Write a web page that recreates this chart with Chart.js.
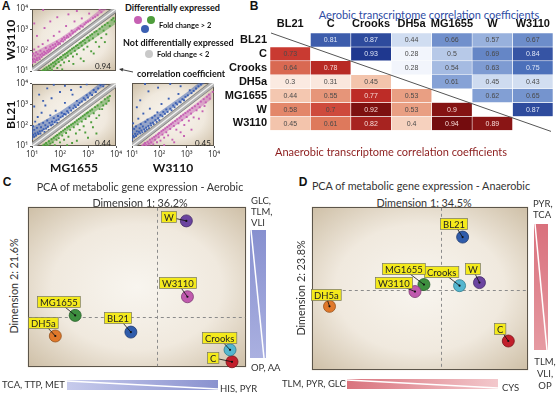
<!DOCTYPE html>
<html lang="en">
<head>
<meta charset="UTF-8">
<title>E. coli strain transcriptomes</title>
<style>
  body { margin: 0; background: #fff; font-family: Lato, "Open Sans", sans-serif; color: #333; }
  #fig { position: relative; width: 556px; height: 393px; overflow: hidden; background: #fff; }
  #fig canvas, #fig .t, #fig svg, #fig .dot { position: absolute; }
  .t { white-space: nowrap; line-height: 1; }
  .c { transform: translate(-50%, -50%); }
  .l { transform: translateY(-50%); }
  .rot { transform: translate(-50%, -50%) rotate(-90deg); }
  .pl { font: bold 12px "Liberation Sans", Arial, sans-serif; color: #111; }
  .lg { font: bold 9px Lato, sans-serif; color: #111; }
  .lg2 { font: bold 7.5px Lato, sans-serif; color: #111; }
  .cc { font: 8px Lato, sans-serif; color: #222; }
  .ti { font: 10.8px Lato, sans-serif; color: #333; }
  .side { font: 9.5px Lato, sans-serif; color: #333; }
  .dot { border-radius: 50%; }
</style>
</head>
<body>
<div id="fig">
  <!-- panel letters -->
  <div class="t c pl" style="left:6px;top:6px">A</div>
  <div class="t c pl" style="left:254px;top:6px">B</div>
  <div class="t c pl" style="left:7px;top:182px">C</div>
  <div class="t c pl" style="left:303px;top:182px">D</div>

  <!-- A: scatter plots -->
  <canvas id="aTop" width="124" height="80" style="left:0;top:0"></canvas>
  <canvas id="aBL" width="124" height="100" style="left:0;top:77px"></canvas>
  <canvas id="aBR" width="98" height="100" style="left:124px;top:77px"></canvas>
  <div class="t c cc" style="left:103px;top:66px">0.94</div>
  <div class="t c cc" style="left:103px;top:143px">0.44</div>
  <div class="t c cc" style="left:203px;top:143px">0.45</div>

  <!-- A: legend -->
  <div class="t l lg" style="left:125px;top:7px">Differentially expressed</div>
  <div class="dot" style="left:134px;top:16px;width:8px;height:8px;background:#c660b3"></div>
  <div class="dot" style="left:147px;top:16px;width:8px;height:8px;background:#4e9d3c"></div>
  <div class="dot" style="left:141px;top:25px;width:8px;height:8px;background:#3b5fb2"></div>
  <div class="t l lg2" style="left:159px;top:25px">Fold change &gt; 2</div>
  <div class="t l lg" style="left:123px;top:42px">Not differentially expressed</div>
  <div class="dot" style="left:145px;top:50px;width:8px;height:8px;background:#c9c9c9"></div>
  <div class="t l lg2" style="left:157px;top:54px">Fold change &lt; 2</div>
  <div class="t l lg" style="left:137px;top:73px">correlation coefficient</div>
  <svg style="left:117px;top:65px" width="18" height="10">
    <line x1="16" y1="7" x2="4" y2="4.4" stroke="#333" stroke-width="0.9"/>
    <path d="M2,4 L6.3,3.1 L5.5,6.6 Z" fill="#333"/>
  </svg>

  <!-- B: heatmap -->
  <div class="t c ti" style="left:429px;top:14px;color:#2f4da5;font-size:11px">Aerobic transcriptome correlation coefficients</div>
  <canvas id="hm" width="351" height="123" style="left:205px;top:17px"></canvas>
  <div class="t c ti" style="left:391px;top:151px;color:#8c1c1c;font-size:11px">Anaerobic transcriptome correlation coefficients</div>

  <!-- C: aerobic PCA -->
  <div class="t c ti" style="left:140px;top:186px">PCA of metabolic gene expression - Aerobic</div>
  <div class="t c ti" style="left:140px;top:202px">Dimension 1: 36.2%</div>
  <div class="t rot ti" style="left:13px;top:286px">Dimension 2: 21.6%</div>
  <canvas id="pcaC" width="232" height="174" style="left:21px;top:200px"></canvas>
  <div class="t l side" style="left:251px;top:200px">GLC,</div>
  <div class="t l side" style="left:251px;top:211px">TLM,</div>
  <div class="t l side" style="left:251px;top:222px">VLI</div>
  <div class="t l side" style="left:251px;top:367px">OP, AA</div>
  <div class="t l side" style="left:2px;top:384px">TCA, TTP, MET</div>
  <div class="t l side" style="left:220px;top:388px">HIS, PYR</div>
  <svg style="left:250px;top:230px" width="16" height="128">
    <defs><linearGradient id="gCv" x1="0" y1="0" x2="0" y2="1">
      <stop offset="0" stop-color="#8790cf"/><stop offset="1" stop-color="#aab0e0"/></linearGradient></defs>
    <rect width="16" height="128" fill="url(#gCv)"/>
    <line x1="1" y1="0" x2="14" y2="128" stroke="#fff" stroke-width="1.5"/>
  </svg>
  <svg style="left:67px;top:380px" width="151" height="10">
    <defs><linearGradient id="gCh" x1="0" y1="0" x2="1" y2="0">
      <stop offset="0" stop-color="#c7cbec"/><stop offset="1" stop-color="#8a92cf"/></linearGradient></defs>
    <rect width="151" height="10" fill="url(#gCh)"/>
    <line x1="0" y1="1" x2="151" y2="9" stroke="#fff" stroke-width="1.3"/>
  </svg>

  <!-- D: anaerobic PCA -->
  <div class="t c ti" style="left:421px;top:185px">PCA of metabolic gene expression - Anaerobic</div>
  <div class="t c ti" style="left:424px;top:202px">Dimension 1: 34.5%</div>
  <div class="t rot ti" style="left:300px;top:288px">Dimension 2: 23.8%</div>
  <canvas id="pcaD" width="230" height="177" style="left:305px;top:200px"></canvas>
  <div class="t l side" style="left:533px;top:203px">PYR,</div>
  <div class="t l side" style="left:533px;top:214px">TCA</div>
  <div class="t c side" style="left:545px;top:361px">TLM,</div>
  <div class="t c side" style="left:545px;top:373px">VLI,</div>
  <div class="t c side" style="left:545px;top:385px">OP</div>
  <div class="t l side" style="left:282px;top:383px">TLM, PYR, GLC</div>
  <div class="t l side" style="left:502px;top:387px">CYS</div>
  <svg style="left:534px;top:224px" width="14" height="126">
    <defs><linearGradient id="gDv" x1="0" y1="0" x2="0" y2="1">
      <stop offset="0" stop-color="#d9707c"/><stop offset="1" stop-color="#e69aa2"/></linearGradient></defs>
    <rect width="14" height="126" fill="url(#gDv)"/>
    <line x1="1" y1="0" x2="13" y2="126" stroke="#fff" stroke-width="1.5"/>
  </svg>
  <svg style="left:347px;top:379px" width="151" height="10">
    <defs><linearGradient id="gDh" x1="0" y1="0" x2="1" y2="0">
      <stop offset="0" stop-color="#d9737d"/><stop offset="1" stop-color="#f3c8cc"/></linearGradient></defs>
    <rect width="151" height="10" fill="url(#gDh)"/>
    <line x1="0" y1="1" x2="151" y2="9" stroke="#fff" stroke-width="1.3"/>
  </svg>
</div>

<script src="https://cdn.jsdelivr.net/npm/chart.js"></script>
<script>
// ---------- data ----------
const strains = ['BL21', 'C', 'Crooks', 'DH5a', 'MG1655', 'W', 'W3110'];

// B: aerobic (upper triangle, row r vs columns r+1..) and anaerobic (lower triangle, columns 0..r-1)
const aerobicCorr = [
  [0.81, 0.87, 0.44, 0.66, 0.57, 0.67],
  [0.93, 0.28, 0.5, 0.69, 0.84],
  [0.28, 0.54, 0.63, 0.75],
  [0.61, 0.45, 0.43],
  [0.62, 0.65],
  [0.87],
  []
];
const anaerobicCorr = [
  [],
  [0.73],
  [0.64, 0.78],
  [0.3, 0.31, 0.45],
  [0.44, 0.55, 0.77, 0.53],
  [0.58, 0.7, 0.92, 0.53, 0.9],
  [0.45, 0.61, 0.82, 0.4, 0.94, 0.89]
];

// C / D: PCA scores, same order as strains
const aerobicPC1 = [-1.18, 3.45, 3.36, -4.64, -3.73, 1.36, 1.41];
const aerobicPC2 = [-0.68, -2.05, -1.5, -0.86, 0.09, 4.45, 0.95];
const anaerobicPC1 = [1.0, 3.09, 0.86, -5.09, -0.77, 1.77, -1.18];
const anaerobicPC2 = [2.41, -2.36, 0.18, -0.77, 0.23, 0.32, -0.09];

// A: log-log expression scatter, [x, y]
const decadeValues = [10, 100, 1000, 10000];
const decadeLabels = ['10\u00b9', '10\u00b2', '10\u00b3', '10\u2074'];
const identity = [{x: 10, y: 10}, {x: 10000, y: 10000}];

// W3110 vs MG1655
const topUp = [[10,24],[10,45],[11,70],[11,30],[12,38],[12,110],[13,27],[13,55],[14,34],[14,80],[15,42],[16,33],[16,65],[17,150],[18,45],[19,38],[20,60],[20,95],[22,48],[23,70],[24,200],[25,58],[27,85],[28,62],[30,75],[31,130],[33,70],[35,95],[37,300],[38,80],[40,110],[43,90],[45,150],[48,105],[50,120],[55,180],[58,125],[60,500],[63,140],[68,200],[72,160],[78,260],[85,190],[90,230],[95,800],[100,210],[110,280],[120,350],[130,270],[140,420],[150,330],[165,1500],[170,400],[180,500],[200,430],[220,600],[240,520],[260,900],[280,650],[300,750],[330,2500],[350,820],[400,1000],[450,1200],[500,1100],[550,1500],[600,3500],[650,1400],[750,1800],[850,2200],[1000,2500],[1100,6000],[1200,2800],[1500,3600],[1800,4200],[2200,5000],[2600,9000],[3000,7000],[28,1200],[45,2500],[15,500],[200,5500],[400,8000],[80,4000],[25,9000],[12,2000]];
const topLow = [[22,10],[25,11],[28,13],[30,10.5],[33,15],[36,12],[40,18],[44,14],[48,21],[52,11],[56,25],[60,17],[65,28],[70,22],[75,33],[80,14],[85,38],[90,27],[100,44],[105,19],[110,48],[120,35],[130,58],[140,26],[150,65],[160,45],[175,75],[190,55],[200,88],[210,30],[230,100],[250,70],[270,120],[290,50],[310,135],[340,95],[370,160],[400,65],[420,180],[460,130],[500,220],[550,40],[560,240],[600,170],[650,280],[700,110],[750,320],[800,230],[900,400],[950,150],[1000,430],[1100,300],[1200,520],[1300,90],[1400,600],[1500,380],[1700,750],[1900,250],[2000,850],[2300,600],[2600,1100],[3000,400],[3200,1400],[3600,900],[4000,1700],[4500,600],[5000,2100],[6000,1500],[7000,3000],[8000,3600],[120,12],[300,22],[700,30],[1600,70],[2500,150],[4000,250],[9000,2500]];
// dense cores of the two clouds (outline of the crowded region)
const topUpCore = [[10,21],[4760,10000],[2900,10000],[1000,3300],[100,380],[10,70]];
const topLowCore = [[21,10],[9000,4290],[9000,1800],[1000,230],[100,28],[45,10]];
// BL21 vs MG1655
const blUp = [[10,22],[10,50],[11,35],[11,90],[12,28],[12,60],[13,40],[13,150],[14,32],[15,75],[16,45],[16,250],[17,38],[18,110],[19,52],[20,40],[21,80],[22,400],[23,55],[25,130],[26,65],[28,48],[30,100],[30,900],[32,70],[35,170],[37,85],[40,60],[42,130],[45,300],[48,100],[50,2000],[52,150],[55,110],[60,220],[65,140],[70,500],[75,170],[80,130],[85,280],[90,190],[100,4000],[105,240],[115,400],[125,270],[140,350],[150,1200],[160,330],[180,480],[200,400],[220,700],[250,520],[280,3000],[300,650],[330,900],[370,750],[400,1500],[450,950],[500,1200],[550,7000],[600,1400],[700,2000],[800,1700],[900,2800],[1000,2200],[1200,3500],[1400,2900],[1600,5000],[1900,4000],[2300,6000],[2800,8500],[3500,7500],[18,3000],[35,6000],[60,9000],[150,8000],[250,5000],[12,800],[25,1500],[900,9500]];
const blLow = [[25,10.5],[28,12],[32,14],[35,11],[40,17],[45,13],[50,21],[55,15],[60,25],[65,11],[70,30],[75,20],[80,34],[90,24],[95,40],[100,15],[110,48],[120,32],[130,55],[140,20],[150,65],[165,42],[180,78],[200,28],[210,90],[230,60],[250,105],[270,14],[290,120],[310,80],[340,140],[370,40],[400,170],[430,110],[470,200],[500,60],[550,230],[600,150],[650,270],[700,90],[760,320],[820,200],[900,380],[1000,25],[1000,420],[1100,270],[1200,500],[1300,140],[1400,580],[1600,380],[1800,750],[2000,220],[2200,900],[2600,600],[3000,1300],[3500,900],[4000,1800],[4500,1100],[5000,2200],[6000,2600],[180,11],[400,18],[800,45],[1500,80],[2500,300],[3200,600],[5500,1500],[2000,40]];
const blUpCore = [[10,21],[4760,10000],[2500,10000],[1000,3800],[100,450],[10,80]];
const blLowCore = [[21,10],[6000,2860],[6000,1500],[1000,250],[100,30],[40,10]];
// BL21 vs W3110
const brUp = [[10,20],[10,45],[11,30],[11,120],[12,26],[12,65],[13,38],[14,30],[14,85],[15,50],[16,36],[17,200],[18,48],[19,70],[20,40],[21,110],[22,55],[24,45],[25,85],[26,350],[28,62],[30,50],[31,140],[33,75],[35,60],[37,180],[40,90],[42,70],[45,600],[48,120],[50,95],[55,220],[58,130],[62,110],[68,280],[72,170],[80,140],[85,400],[90,210],[100,170],[110,300],[120,1000],[130,260],[140,420],[160,340],[180,550],[200,420],[220,1800],[250,600],[280,500],[320,850],[360,700],[400,1100],[450,950],[500,3000],[550,1300],[600,1200],[700,1700],[800,1500],[900,2200],[1100,2600],[1300,4500],[1500,3300],[1800,4200],[2200,5500],[2700,7000],[3300,8500],[20,1500],[40,4000],[90,6000],[15,700],[250,9000],[600,7000],[30,9000]];
const brLow = [[24,10.5],[27,12],[30,14],[33,11],[37,16],[41,13],[45,20],[50,15],[55,23],[60,12],[65,27],[70,20],[75,31],[82,15],[90,36],[95,26],[100,42],[110,18],[120,50],[130,35],[140,58],[150,25],[165,68],[180,45],[195,80],[210,32],[230,95],[250,65],[270,110],[300,20],[310,130],[340,90],[380,155],[420,60],[450,185],[500,120],[550,220],[600,45],[620,260],[680,170],[750,310],[820,100],[900,370],[1000,240],[1100,440],[1200,160],[1300,520],[1450,350],[1600,640],[1800,230],[2000,780],[2300,500],[2600,1000],[3000,700],[3300,1300],[3800,450],[4200,1700],[5000,1200],[5500,2200],[6500,2800],[150,11],[350,15],[800,30],[1500,60],[2800,200],[4500,800],[7000,1800],[9000,3800]];
const brUpCore = [[10,21],[4760,10000],[2700,10000],[1000,3500],[100,420],[10,75]];
const brLowCore = [[21,10],[8000,3810],[8000,1700],[1000,220],[100,27],[45,10]];

// ---------- styles ----------
const pink = '#c660b3', green = '#4e9d3c', blue = '#3b5fb2';
const pinkCore = 'rgba(198,96,179,0.5)', greenCore = 'rgba(78,157,60,0.5)', blueCore = 'rgba(59,95,178,0.5)';
const strainColor = {BL21: '#2f5cab', C: '#c21f2b', Crooks: '#55b6cf', DH5a: '#e0782a', MG1655: '#3d8f3f', W: '#6b44a0', W3110: '#c05aae'};
const strainEdge = {BL21: '#1d3a70', C: '#7a1218', Crooks: '#2f7b8e', DH5a: '#94501b', MG1655: '#275d28', W: '#432a66', W3110: '#7e3a72'};
const tagOffsetC = {BL21: [-13, -15], C: [-19, -4], Crooks: [-11, -12], DH5a: [-12, -13], MG1655: [-17, -14], W: [-18, -4], W3110: [-10, -14]};
const tagOffsetD = {BL21: [-9, -14], C: [-9, -13], Crooks: [-18, -14], DH5a: [-4, -12], MG1655: [-21, -16], W: [-7, -14], W3110: [-22, -9]};

Chart.defaults.font.family = 'Lato, sans-serif';
Chart.defaults.animation = false;

// beige vignette behind the plot and a dark frame
const plotFrame = {
  id: 'plotFrame',
  beforeDraw(chart) {
    const {ctx, chartArea: a} = chart;
    ctx.save();
    ctx.translate((a.left + a.right) / 2, (a.top + a.bottom) / 2);
    ctx.scale(a.width / 2, a.height / 2);
    const g = ctx.createRadialGradient(0, 0, 0, 0, 0, 1.42);
    g.addColorStop(0, '#f8f5ef');
    g.addColorStop(0.55, '#f0e9de');
    g.addColorStop(1, '#cdbea5');
    ctx.fillStyle = g;
    ctx.fillRect(-1, -1, 2, 2);
    ctx.restore();
  },
  beforeDatasetsDraw(chart) {
    const {ctx, chartArea: a} = chart;
    ctx.save();
    ctx.strokeStyle = '#5c554a';
    ctx.lineWidth = 1;
    ctx.strokeRect(Math.round(a.left) + 0.5, Math.round(a.top) + 0.5, Math.round(a.width) - 1, Math.round(a.height) - 1);
    ctx.restore();
  }
};

// ---------- A ----------
function logAxis(show, title, fitSize, horizontal) {
  return {
    type: 'logarithmic', min: 10, max: 10000, display: show,
    afterBuildTicks: s => { s.ticks = decadeValues.map(v => ({value: v})); },
    ticks: {
      callback: v => decadeLabels[decadeValues.indexOf(v)],
      font: {family: '"Noto Sans", "DejaVu Sans", sans-serif', size: 8}, color: '#333',
      padding: 2, maxRotation: 0, autoSkip: false
    },
    grid: {drawOnChartArea: false, tickLength: 2, color: '#555'},
    border: {display: false},
    title: {display: !!title, text: title, color: '#111', font: {family: 'Lato, sans-serif', weight: 'bold', size: 12}, padding: {top: 4, bottom: 2}},
    afterFit: s => {
      if (!show) return;
      if (horizontal) s.height = fitSize; else s.width = fitSize;
    }
  };
}

function scatterPanel(id, up, low, cfg) {
  const xy = pts => pts.map(p => ({x: p[0], y: p[1]}));
  const dots = (pts, color, order) => ({data: xy(pts), backgroundColor: color, pointStyle: 'rect', pointRadius: 1.35, borderWidth: 0, order});
  const core = (pts, color, order) => ({data: xy(pts), showLine: true, fill: 'shape', backgroundColor: color, borderWidth: 0, borderColor: 'transparent', pointRadius: 0, order});
  return new Chart(document.getElementById(id), {
    type: 'scatter',
    data: {
      datasets: [
        {data: identity, showLine: true, borderColor: '#f4f4f4', borderWidth: 1.2, pointRadius: 0, order: 0},
        {data: identity, showLine: true, borderColor: '#b4b4b4', borderWidth: 5, pointRadius: 0, order: 1},
        {data: identity, showLine: true, borderColor: '#7a7a7a', borderWidth: 6.5, pointRadius: 0, order: 2},
        dots(up.pts, up.color, 3),
        dots(low.pts, low.color, 4),
        core(up.core, up.coreColor, 5),
        core(low.core, low.coreColor, 6)
      ]
    },
    options: {
      responsive: false, events: [],
      layout: {padding: cfg.padding},
      scales: {
        x: logAxis(!!cfg.xTitle, cfg.xTitle, 31, true),
        y: logAxis(!!cfg.yTitle, cfg.yTitle, 32, false)
      },
      plugins: {legend: {display: false}, tooltip: {enabled: false}}
    },
    plugins: [plotFrame]
  });
}

scatterPanel('aTop',
  {pts: topUp, core: topUpCore, color: pink, coreColor: pinkCore},
  {pts: topLow, core: topLowCore, color: green, coreColor: greenCore},
  {yTitle: 'W3110', padding: {top: 9, right: 8, bottom: 9, left: 0}});
scatterPanel('aBL',
  {pts: blUp, core: blUpCore, color: blue, coreColor: blueCore},
  {pts: blLow, core: blLowCore, color: green, coreColor: greenCore},
  {yTitle: 'BL21', xTitle: 'MG1655', padding: {top: 6, right: 8, bottom: 0, left: 0}});
scatterPanel('aBR',
  {pts: brUp, core: brUpCore, color: blue, coreColor: blueCore},
  {pts: brLow, core: brLowCore, color: pink, coreColor: pinkCore},
  {xTitle: 'W3110', padding: {top: 6, right: 8, bottom: 0, left: 8}});

// ---------- B ----------
function cellValue(r, c) {
  if (c > r) return aerobicCorr[r][c - r - 1];
  if (c < r) return anaerobicCorr[r][c];
  return null;
}
const blueStops = [[0.25, [248, 250, 254]], [0.45, [206, 219, 240]], [0.6, [138, 166, 216]], [0.75, [76, 112, 186]], [0.95, [26, 50, 138]]];
const redStops = [[0.25, [253, 246, 242]], [0.45, [243, 196, 172]], [0.6, [224, 126, 96]], [0.75, [197, 48, 42]], [0.95, [112, 10, 12]]];
function ramp(stops, v) {
  for (let i = 1; i < stops.length; i++) {
    if (v <= stops[i][0] || i === stops.length - 1) {
      const [v0, c0] = stops[i - 1], [v1, c1] = stops[i];
      const t = Math.max(0, Math.min(1, (v - v0) / (v1 - v0)));
      return 'rgb(' + c0.map((k, j) => Math.round(k + (c1[j] - k) * t)).join(',') + ')';
    }
  }
}

const hmDatasets = strains.map((rowName, r) => ({
  label: rowName,
  data: strains.map((_, c) => cellValue(r, c) == null ? null : [r, r + 1]),
  backgroundColor: strains.map((_, c) => {
    const v = cellValue(r, c);
    return v == null ? 'transparent' : ramp(c > r ? blueStops : redStops, v);
  }),
  borderColor: '#ffffff', borderWidth: 0.6, borderSkipped: false,
  barPercentage: 1, categoryPercentage: 1, grouped: false
}));

const cellText = {
  id: 'cellText',
  afterDatasetsDraw(chart) {
    const {ctx, chartArea: a} = chart;
    ctx.save();
    ctx.font = '7px "Liberation Sans", Arial, sans-serif';
    ctx.textAlign = 'center';
    ctx.textBaseline = 'middle';
    chart.data.datasets.forEach((ds, r) => {
      chart.getDatasetMeta(r).data.forEach((bar, c) => {
        const v = cellValue(r, c);
        if (v == null) return;
        const p = bar.getProps(['x', 'y', 'base'], true);
        const dark = v >= 0.74;
        ctx.fillStyle = dark ? (c > r ? '#dfe6f6' : '#f6d9d6') : '#4a4a4a';
        ctx.fillText(String(v), p.x, (p.y + p.base) / 2 + 0.5);
      });
    });
    // diagonal separator
    ctx.strokeStyle = '#555';
    ctx.lineWidth = 1;
    ctx.beginPath();
    ctx.moveTo(a.left + 1, a.top);
    ctx.lineTo(a.right - 2, a.bottom + 1);
    ctx.stroke();
    ctx.restore();
  }
};

const headFont = {family: '"Liberation Sans Narrow", "Liberation Sans", Arial, sans-serif', weight: 'bold', size: 11};
new Chart(document.getElementById('hm'), {
  type: 'bar',
  data: {labels: strains, datasets: hmDatasets},
  options: {
    responsive: false, events: [],
    layout: {padding: {top: 0, right: 3, bottom: 8, left: 0}},
    scales: {
      x: {
        position: 'top', offset: true,
        grid: {display: false, drawTicks: false, tickLength: 0}, border: {display: false},
        ticks: {font: headFont, color: '#111', padding: 2, maxRotation: 0, autoSkip: false},
        afterFit: s => { s.height = 16; }
      },
      y: {type: 'linear', min: 0, max: 7, reverse: true, display: false},
      rows: {
        type: 'category', labels: strains, position: 'left', offset: true,
        grid: {display: false, drawTicks: false, tickLength: 0}, border: {display: false},
        ticks: {font: headFont, color: '#111', padding: 3, autoSkip: false},
        afterFit: s => { s.width = 65; }
      }
    },
    plugins: {legend: {display: false}, tooltip: {enabled: false}}
  },
  plugins: [cellText]
});

// ---------- C / D ----------
function pcaDecor(offsets) {
  return {
    id: 'pcaDecor',
    beforeDatasetsDraw(chart) {
      const {ctx, chartArea: a, scales} = chart;
      const x0 = Math.round(scales.x.getPixelForValue(0)) + 0.5;
      const y0 = Math.round(scales.y.getPixelForValue(0)) + 0.5;
      ctx.save();
      ctx.strokeStyle = '#8b8b8b';
      ctx.lineWidth = 1;
      ctx.setLineDash([3, 3]);
      ctx.beginPath();
      ctx.moveTo(x0, a.top + 1); ctx.lineTo(x0, a.bottom - 1);
      ctx.moveTo(a.left + 1, y0); ctx.lineTo(a.right - 1, y0);
      ctx.stroke();
      ctx.restore();
    },
    afterDatasetsDraw(chart) {
      const ctx = chart.ctx;
      const pts = chart.getDatasetMeta(0).data;
      ctx.save();
      ctx.font = '9.5px Lato, sans-serif';
      ctx.textAlign = 'center';
      ctx.textBaseline = 'middle';
      pts.forEach((pt, i) => {
        const [dx, dy] = offsets[strains[i]];
        ctx.strokeStyle = '#111';
        ctx.lineWidth = 0.8;
        ctx.beginPath();
        ctx.moveTo(pt.x + dx, pt.y + dy);
        ctx.lineTo(pt.x, pt.y);
        ctx.stroke();
        ctx.fillStyle = '#111';
        ctx.beginPath();
        ctx.arc(pt.x, pt.y, 1.1, 0, 2 * Math.PI);
        ctx.fill();
      });
      pts.forEach((pt, i) => {
        const name = strains[i];
        const [dx, dy] = offsets[name];
        const w = ctx.measureText(name).width + 5, h = 11;
        const lx = Math.round(pt.x + dx - w / 2) + 0.5, ly = Math.round(pt.y + dy - h / 2) + 0.5;
        ctx.fillStyle = '#f4ea1c';
        ctx.strokeStyle = '#777760';
        ctx.lineWidth = 0.7;
        ctx.fillRect(lx, ly, w, h);
        ctx.strokeRect(lx, ly, w, h);
        ctx.fillStyle = '#222';
        ctx.fillText(name, lx + w / 2, ly + h / 2 + 0.5);
      });
      ctx.restore();
    }
  };
}

function pcaPanel(id, pc1, pc2, xRange, yRange, offsets) {
  return new Chart(document.getElementById(id), {
    type: 'scatter',
    data: {
      datasets: [{
        data: strains.map((s, i) => ({x: pc1[i], y: pc2[i]})),
        backgroundColor: strains.map(s => strainColor[s]),
        borderColor: strains.map(s => strainEdge[s]),
        borderWidth: 0.8, pointRadius: 6, clip: false
      }]
    },
    options: {
      responsive: false, events: [],
      layout: {padding: 6},
      scales: {
        x: {type: 'linear', min: xRange[0], max: xRange[1], display: false},
        y: {type: 'linear', min: yRange[0], max: yRange[1], display: false}
      },
      plugins: {legend: {display: false}, tooltip: {enabled: false}}
    },
    plugins: [plotFrame, pcaDecor(offsets)]
  });
}

pcaPanel('pcaC', aerobicPC1, aerobicPC2, [-5.9, 4.1], [-2.3, 5.1], tagOffsetC);
pcaPanel('pcaD', anaerobicPC1, anaerobicPC2, [-5.9, 4.0], [-3.7, 3.8], tagOffsetD);
</script>
</body>
</html>
